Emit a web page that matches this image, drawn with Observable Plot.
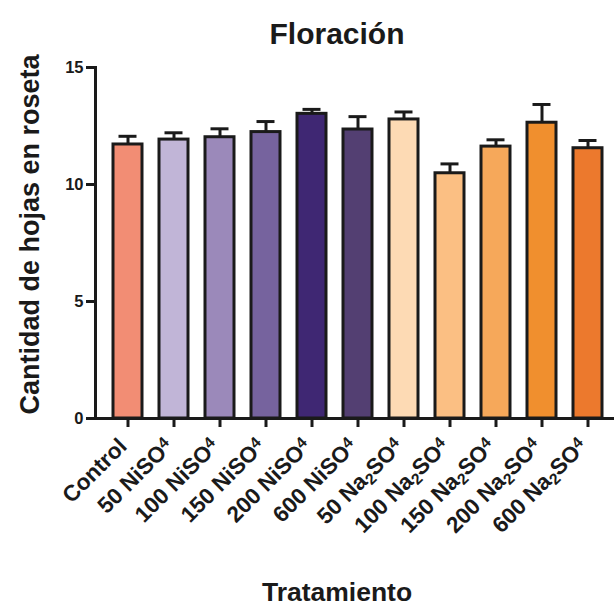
<!DOCTYPE html>
<html><head><meta charset="utf-8">
<script src="https://cdn.jsdelivr.net/npm/d3@7"></script>
<script src="https://cdn.jsdelivr.net/npm/@observablehq/plot@0.6"></script>
<style>body{margin:0;background:#fff} svg{display:block}</style>
</head><body><div id="chart"></div>
<script>
// ---- data ----
const categories = ["Control","50 NiSO4","100 NiSO4","150 NiSO4","200 NiSO4","600 NiSO4",
                    "50 Na2SO4","100 Na2SO4","150 Na2SO4","200 Na2SO4","600 Na2SO4"];
const means = [11.71, 11.92, 12.02, 12.24, 13.02, 12.35, 12.78, 10.48, 11.62, 12.64, 11.55];
const sems  = [0.35, 0.29, 0.36, 0.45, 0.19, 0.55, 0.32, 0.40, 0.29, 0.78, 0.33];
const colors = ["#F28D74","#C1B5D7","#9B89BA","#76639E","#3F2773","#533F72",
                "#FDDAB4","#FBBF83","#F6A85A","#F08F2E","#EC792D"];
const yTicks = [0, 5, 10, 15];
const title = "Floración";
const yLabel = "Cantidad de hojas en roseta";
const xLabel = "Tratamiento";

const data = categories.map((c, i) => ({c, m: means[i], top: means[i] + sems[i]}));
const ink = "#1a1a1a";
const font = "'Liberation Sans', Arial, Helvetica, sans-serif";

const chart = Plot.plot({
  width: 614, height: 613,
  marginTop: 67, marginBottom: 195, marginLeft: 95, marginRight: -6,
  style: {fontFamily: font, color: ink, background: "#fff"},
  x: {domain: categories, padding: 0.37, label: null},
  y: {domain: [0, 15], label: null},
  color: {domain: categories, range: colors},
  marks: [
    Plot.barY(data, {x: "c", y: "m", fill: "c", stroke: ink, strokeWidth: 3}),
    Plot.ruleX(data, {x: "c", y1: "m", y2: "top", stroke: ink, strokeWidth: 3}),
    Plot.tickY(data, {x: "c", y: "top", stroke: ink, strokeWidth: 3, insetLeft: 5.5, insetRight: 5.5}),
    Plot.frame({anchor: "left", stroke: ink, strokeWidth: 3}),
    Plot.frame({anchor: "bottom", stroke: ink, strokeWidth: 3}),
    Plot.axisY({ticks: yTicks, tickSize: 9, tickPadding: 3, strokeWidth: 3, stroke: ink,
                fontSize: 16.5, fontWeight: "bold", label: null}),
    Plot.axisX({tickSize: 9, strokeWidth: 3, stroke: ink, text: null, label: null}),
    Plot.axisX({tickSize: 0, tickPadding: 24, tickRotate: -45, dx: -5, fontSize: 22.5,
                fontWeight: "bold", label: null}),
    Plot.text([title], {frameAnchor: "top", dx: -21, dy: -45, fontSize: 30, fontWeight: "bold", fill: ink}),
    Plot.text([yLabel], {frameAnchor: "left", rotate: -90, dx: -65, dy: -8.5, fontSize: 27,
                         fontWeight: "bold", textAnchor: "middle", fill: ink}),
    Plot.text([xLabel], {frameAnchor: "bottom", dx: -21, dy: 182, fontSize: 26.5, fontWeight: "bold", fill: ink})
  ]
});

// chemical formula styling of the tick labels (2 lowered, 4 raised as in the source)
d3.select(chart).selectAll('g[aria-label="x-axis tick label"] text').each(function () {
  const t = this.textContent;
  let parts;
  if (t.includes("Na2SO4")) parts = [[t.replace("Na2SO4", "Na"), 0], ["2", 4], ["SO", -4], ["4", -6]];
  else if (t.includes("NiSO4")) parts = [[t.replace("NiSO4", "NiSO"), 0], ["4", -6]];
  else return;
  const el = d3.select(this);
  el.text(null);
  for (const [s, shift] of parts) {
    const sp = el.append("tspan").text(s);
    if (shift) sp.attr("dy", shift);
    if (s === "2" || s === "4") sp.attr("font-size", "0.7em");
  }
});

document.getElementById("chart").appendChild(chart);
</script>
</body></html>
